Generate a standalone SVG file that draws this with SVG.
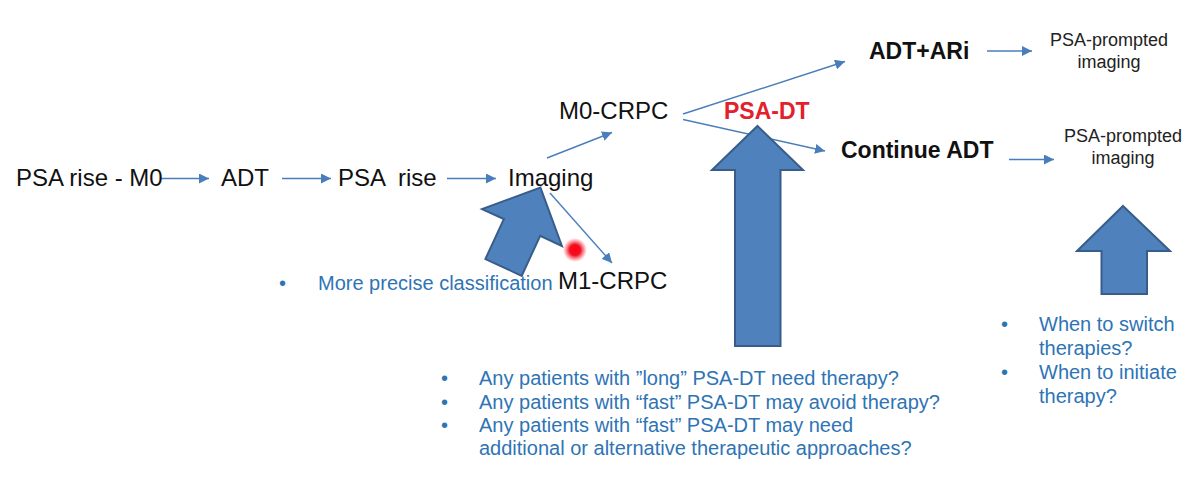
<svg xmlns="http://www.w3.org/2000/svg" width="1200" height="483" viewBox="0 0 1200 483">
<defs>
<style>
text{font-family:"Liberation Sans",Arial,sans-serif;}
.n{font-size:24px;fill:#111;}
.b{font-size:23px;font-weight:bold;fill:#111;}
.red{font-size:23px;font-weight:bold;fill:#e3202b;}
.s{font-size:18px;fill:#222;text-anchor:middle;}
.q{font-size:20px;fill:#2e74b5;}
.conn{stroke:#4a7ebb;stroke-width:1.4;fill:none;marker-end:url(#ah);}
.big{fill:#4f81bd;stroke:#385d8a;stroke-width:2;stroke-linejoin:miter;}
</style>
<marker id="ah" markerUnits="userSpaceOnUse" markerWidth="12" markerHeight="10" refX="10" refY="5" orient="auto">
<path d="M0,0 L10,5 L0,10 z" fill="#4a7ebb"/>
</marker>
<radialGradient id="dot">
<stop offset="0" stop-color="#ff0010"/>
<stop offset="0.45" stop-color="#f01020"/>
<stop offset="1" stop-color="#ff3040" stop-opacity="0"/>
</radialGradient>
</defs>
<rect width="1200" height="483" fill="#ffffff"/>

<g id="connectors">
<line class="conn" x1="161" y1="178.5" x2="209" y2="178.5"/>
<line class="conn" x1="282" y1="178.5" x2="331" y2="178.5"/>
<line class="conn" x1="447" y1="178.5" x2="496" y2="178.5"/>
<line class="conn" x1="547" y1="158" x2="612" y2="132.5"/>
<line class="conn" x1="550" y1="193" x2="612" y2="263"/>
<line class="conn" x1="683" y1="114" x2="845" y2="61.5"/>
<line class="conn" x1="683" y1="119.5" x2="825" y2="151"/>
<line class="conn" x1="987" y1="51" x2="1032" y2="51"/>
<line class="conn" x1="1009" y1="159.5" x2="1054" y2="159.5"/>
</g>

<g id="bigarrow-imaging">
<path class="big" transform="translate(522,227.5) rotate(24.8)" d="M0,-44 L44,0 L20,0 L20,44 L-20,44 L-20,0 L-44,0 Z"/>
</g>
<g id="red-dot">
<circle cx="575" cy="250" r="12" fill="url(#dot)"/>
</g>
<g id="bigarrow-psadt">
<path class="big" d="M757.5,126 L803,170 L780.5,170 L780.5,346 L735,346 L735,170 L712,170 Z"/>
</g>
<g id="bigarrow-right">
<path class="big" d="M1123,206 L1170,251 L1147,251 L1147,294 L1101.5,294 L1101.5,251 L1077,251 Z"/>
</g>

<g id="node-psa-rise-m0"><text class="n" x="16" y="186">PSA rise - M0</text></g>
<g id="node-adt"><text class="n" x="221" y="186">ADT</text></g>
<g id="node-psa-rise"><text class="n" x="338" y="186" xml:space="preserve">PSA  rise</text></g>
<g id="node-imaging"><text class="n" x="508" y="186">Imaging</text></g>
<g id="node-m0-crpc"><text class="n" x="559" y="119">M0-CRPC</text></g>
<g id="node-m1-crpc"><text class="n" x="558" y="289">M1-CRPC</text></g>
<g id="label-psa-dt"><text class="red" x="724" y="119">PSA-DT</text></g>
<g id="node-adt-ari"><text class="b" x="869" y="59">ADT+ARi</text></g>
<g id="node-continue-adt"><text class="b" x="841" y="158">Continue ADT</text></g>
<g id="node-psa-imaging-1"><text class="s" x="1109" y="46">PSA-prompted</text><text class="s" x="1109" y="68">imaging</text></g>
<g id="node-psa-imaging-2"><text class="s" x="1123" y="142">PSA-prompted</text><text class="s" x="1123" y="164">imaging</text></g>

<g id="note-classification">
<text class="q" x="279" y="290">•</text>
<text class="q" x="318" y="290">More precise classification</text>
</g>
<g id="note-psadt">
<text class="q" x="441" y="385">•</text>
<text class="q" x="479" y="385">Any patients with ”long” PSA-DT need therapy?</text>
<text class="q" x="441" y="408.5">•</text>
<text class="q" x="479" y="408.5">Any patients with “fast” PSA-DT may avoid therapy?</text>
<text class="q" x="441" y="432">•</text>
<text class="q" x="479" y="432">Any patients with “fast” PSA-DT may need</text>
<text class="q" x="479" y="455">additional or alternative therapeutic approaches?</text>
</g>
<g id="note-switch">
<text class="q" x="1001" y="331">•</text>
<text class="q" x="1039" y="331">When to switch</text>
<text class="q" x="1039" y="355">therapies?</text>
<text class="q" x="1001" y="379">•</text>
<text class="q" x="1039" y="379">When to initiate</text>
<text class="q" x="1039" y="403">therapy?</text>
</g>
</svg>
